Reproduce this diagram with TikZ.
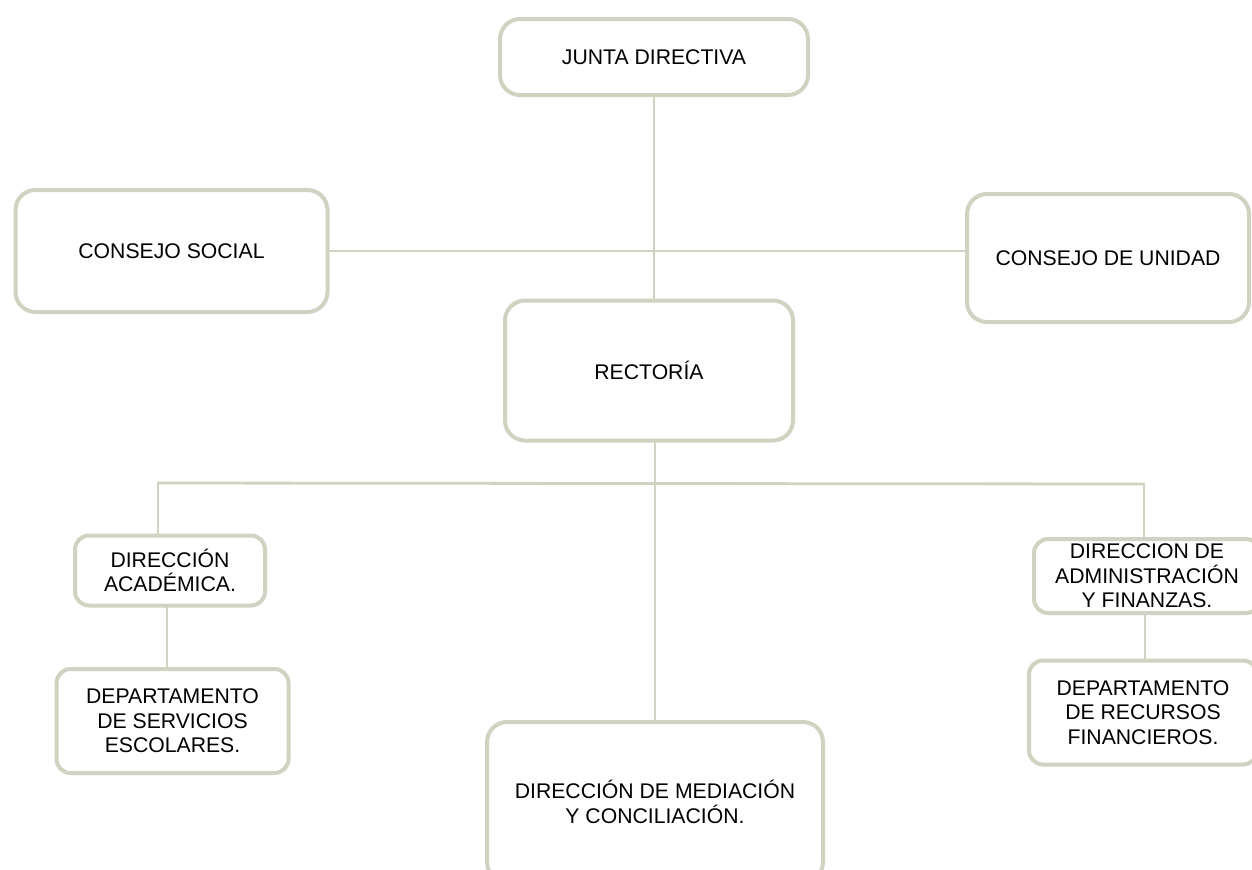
\documentclass[tikz,border=0pt]{standalone}
\usepackage{fontspec}
\setmainfont{Liberation Sans}
\definecolor{sage}{RGB}{208,211,194}
\usetikzlibrary{calc}
\tikzset{
    orgbox/.style = {draw=sage, line width=2pt, rounded corners=10pt, fill=white,
        align=center, inner sep=2pt, font=\fontsize{10.6}{12.3}\selectfont},
    smallbox/.style = {orgbox, rounded corners=7pt},
    link/.style = {draw=sage, line width=1.4pt}
}

\begin{document}
\begin{tikzpicture}[x=0.5pt, y=-0.5pt, line cap=round, line join=round]
	\useasboundingbox (0,0) rectangle (1252,869);
	\clip (0,0) rectangle (1252,869);
	\node[orgbox, minimum width=154pt, minimum height=38pt] (junta) at (654,57) {JUNTA DIRECTIVA};
	\node[orgbox, minimum width=156pt, minimum height=61pt] (social) at (171.5,251) {CONSEJO SOCIAL};
	\node[orgbox, minimum width=141pt, minimum height=64pt] (unidad) at (1108,258) {CONSEJO DE UNIDAD};
	\node[orgbox, minimum width=144pt, minimum height=70pt] (rector) at (649,370.5) {RECTOR\'IA};
	\node[smallbox, minimum width=95pt, minimum height=35pt] (acad) at (170,570.5) {DIRECCI\'ON\\ACAD\'EMICA.};
	\node[smallbox, minimum width=116pt, minimum height=52pt] (servicios) at (172.5,721) {DEPARTAMENTO\\DE SERVICIOS\\ESCOLARES.};
	\node[orgbox, minimum width=168pt, minimum height=80pt] (mediacion) at (655,802) {DIRECCI\'ON DE MEDIACI\'ON\\Y CONCILIACI\'ON.};
	\node[smallbox, minimum width=113pt, minimum height=37pt] (admin) at (1147,576) {DIRECCION DE\\ADMINISTRACI\'ON\\Y FINANZAS.};
	\node[smallbox, minimum width=114pt, minimum height=52pt] (recursos) at (1143,712.5) {DEPARTAMENTO\\DE RECURSOS\\FINANCIEROS.};
	% branch points
	\coordinate (bl) at (158,483);
	\coordinate (br) at (1144,484);
	\draw[link] (junta.south) -- (junta.south |- rector.north);
	\draw[link] (social.east) -- (social.east -| unidad.west);
	\draw[link] (mediacion.north |- rector.south) -- (mediacion.north);
	\draw[link] (bl) -- (br);
	\draw[link] (bl) -- (bl |- acad.north);
	\draw[link] (br) -- (br |- admin.north);
	\draw[link] (acad.south -| 167,0) -- (servicios.north -| 167,0);
	\draw[link] (admin.south -| 1145,0) -- (recursos.north -| 1145,0);
\end{tikzpicture}
\end{document}
